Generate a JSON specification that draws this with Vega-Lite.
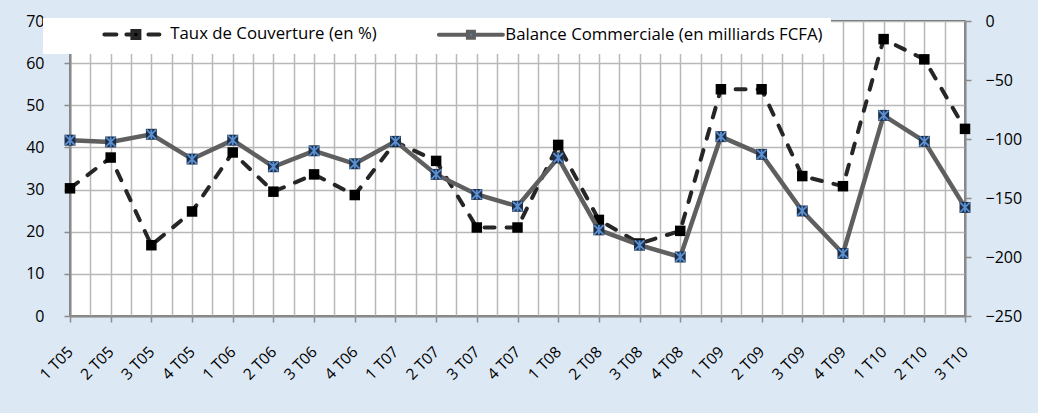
{
  "$schema": "https://vega.github.io/schema/vega-lite/v6.json",
  "width": 895,
  "height": 295,
  "autosize": {"type": "none"},
  "padding": {"left": 70, "top": 21, "right": 73, "bottom": 97},
  "background": "#dce8f4",
  "data": {
    "values": [
      {"q": "1 T05", "taux": 30.3, "balance": -101},
      {"q": "2 T05", "taux": 37.6, "balance": -102.5},
      {"q": "3 T05", "taux": 16.8, "balance": -96},
      {"q": "4 T05", "taux": 24.8, "balance": -117},
      {"q": "1 T06", "taux": 38.8, "balance": -101},
      {"q": "2 T06", "taux": 29.5, "balance": -123.5},
      {"q": "3 T06", "taux": 33.6, "balance": -110},
      {"q": "4 T06", "taux": 28.7, "balance": -121},
      {"q": "1 T07", "taux": 41.3, "balance": -102},
      {"q": "2 T07", "taux": 36.8, "balance": -130},
      {"q": "3 T07", "taux": 21.0, "balance": -147},
      {"q": "4 T07", "taux": 21.0, "balance": -157},
      {"q": "1 T08", "taux": 40.6, "balance": -116},
      {"q": "2 T08", "taux": 22.8, "balance": -177},
      {"q": "3 T08", "taux": 17.2, "balance": -190},
      {"q": "4 T08", "taux": 20.2, "balance": -200},
      {"q": "1 T09", "taux": 53.8, "balance": -98},
      {"q": "2 T09", "taux": 53.8, "balance": -113},
      {"q": "3 T09", "taux": 33.2, "balance": -161},
      {"q": "4 T09", "taux": 30.8, "balance": -197},
      {"q": "1 T10", "taux": 65.7, "balance": -80},
      {"q": "2 T10", "taux": 60.9, "balance": -102},
      {"q": "3 T10", "taux": 44.4, "balance": -158}
    ]
  },
  "encoding": {
    "x": {
      "field": "q",
      "type": "ordinal",
      "sort": null,
      "scale": {
        "type": "point",
        "padding": 0,
        "domain": ["1 T05", "m1", "2 T05", "m2", "3 T05", "m3", "4 T05", "m4", "1 T06", "m5", "2 T06", "m6", "3 T06", "m7", "4 T06", "m8", "1 T07", "m9", "2 T07", "m10", "3 T07", "m11", "4 T07", "m12", "1 T08", "m13", "2 T08", "m14", "3 T08", "m15", "4 T08", "m16", "1 T09", "m17", "2 T09", "m18", "3 T09", "m19", "4 T09", "m20", "1 T10", "m21", "2 T10", "m22", "3 T10"]
      },
      "axis": {
        "title": null,
        "grid": true,
        "gridColor": "#b8b8b8",
        "gridWidth": 1.5,
        "domainColor": "#8c8c8c",
        "domainWidth": 2,
        "tickColor": "#8c8c8c",
        "tickSize": 6,
        "tickWidth": 1.5,
        "tickOpacity": {"condition": {"test": "indexof(datum.value, 'T') < 0", "value": 0}, "value": 1},
        "labelExpr": "indexof(datum.value, 'T') < 0 ? '' : datum.value",
        "labelAngle": -45,
        "labelAlign": "right",
        "labelBaseline": "middle",
        "labelPadding": 27,
        "labelFontSize": 15.5,
        "labelColor": "#000000",
        "labelOverlap": false
      }
    }
  },
  "layer": [
    {
      "encoding": {
        "y": {
          "field": "taux",
          "type": "quantitative",
          "scale": {"domain": [0, 70], "nice": false},
          "axis": {
            "orient": "left",
            "title": null,
            "values": [0, 10, 20, 30, 40, 50, 60, 70],
            "grid": true,
            "gridColor": "#b8b8b8",
            "gridWidth": 1.5,
            "domainColor": "#8c8c8c",
            "domainWidth": 2,
            "tickColor": "#8c8c8c",
            "tickSize": 6,
            "tickWidth": 1.5,
            "labelPadding": 20,
            "labelFontSize": 16,
            "labelColor": "#000000"
          }
        }
      },
      "layer": [
        {
          "mark": {"type": "line", "strokeWidth": 4, "strokeDash": [10, 12], "strokeCap": "round"},
          "encoding": {
            "color": {
              "datum": "Taux de Couverture (en %)",
              "type": "nominal",
              "scale": {
                "domain": ["Taux de Couverture (en %)", "Balance Commerciale (en milliards FCFA)"],
                "range": ["#262626", "#5f5f5f"]
              },
              "legend": {
                "orient": "none",
                "legendX": -27,
                "legendY": -3,
                "direction": "horizontal",
                "title": null,
                "fillColor": "white",
                "padding": 8,
                "symbolSize": 100,
                "symbolOffset": 76.5,
                "labelOffset": 26,
                "columnPadding": 9,
                "labelFont": "Open Sans",
                "labelFontSize": 16.8,
                "labelColor": "#000000",
                "labelLimit": 500,
                "encode": {
                  "symbols": {
                    "update": {
                      "shape": {"signal": "datum.value === 'Taux de Couverture (en %)' ? 'M-6.3,0H-3.9M-1.9,0H-0.7M-0.7,-0.7H0.7V0.7H-0.7ZM2.5,0H4.7' : 'M-6.4,0H-1M1,0H6.4M-0.6,-0.6H0.6V0.6H-0.6Z'"},
                      "fill": {"signal": "datum.value === 'Taux de Couverture (en %)' ? '#000000' : '#4f81bd'"},
                      "stroke": {"signal": "datum.value === 'Taux de Couverture (en %)' ? '#262626' : '#5f5f5f'"},
                      "strokeDash": {"value": []},
                      "strokeCap": {"value": "round"},
                      "strokeWidth": {"value": 4},
                      "opacity": {"value": 1},
                      "fillOpacity": {"value": 1}
                    }
                  }
                }
              }
            }
          }
        },
        {
          "mark": {"type": "point", "shape": "square", "filled": true, "size": 110, "color": "#000000", "opacity": 1}
        }
      ]
    },
    {
      "encoding": {
        "y": {
          "field": "balance",
          "type": "quantitative",
          "scale": {"domain": [-250, 0], "nice": false, "zero": false},
          "axis": {
            "orient": "right",
            "title": null,
            "values": [-250, -200, -150, -100, -50, 0],
            "grid": false,
            "domainColor": "#8c8c8c",
            "domainWidth": 2,
            "tickColor": "#8c8c8c",
            "tickSize": 6,
            "tickWidth": 1.5,
            "labelPadding": 14,
            "labelFontSize": 16,
            "labelColor": "#000000"
          }
        }
      },
      "layer": [
        {
          "mark": {"type": "line", "strokeWidth": 4.5},
          "encoding": {
            "color": {"datum": "Balance Commerciale (en milliards FCFA)", "type": "nominal"}
          }
        },
        {
          "mark": {"type": "point", "shape": "square", "filled": true, "size": 120, "color": "#1c2f4a", "opacity": 1}
        },
        {
          "mark": {"type": "point", "shape": "M-1,-1L1,1M1,-1L-1,1M0,-1V1", "filled": false, "size": 90, "color": "#5b8fd0", "strokeWidth": 1.8, "opacity": 1}
        }
      ]
    }
  ],
  "resolve": {"scale": {"y": "independent"}},
  "config": {
    "font": "Open Sans",
    "view": {"fill": "white", "stroke": "#404040", "strokeWidth": 1.5}
  }
}
